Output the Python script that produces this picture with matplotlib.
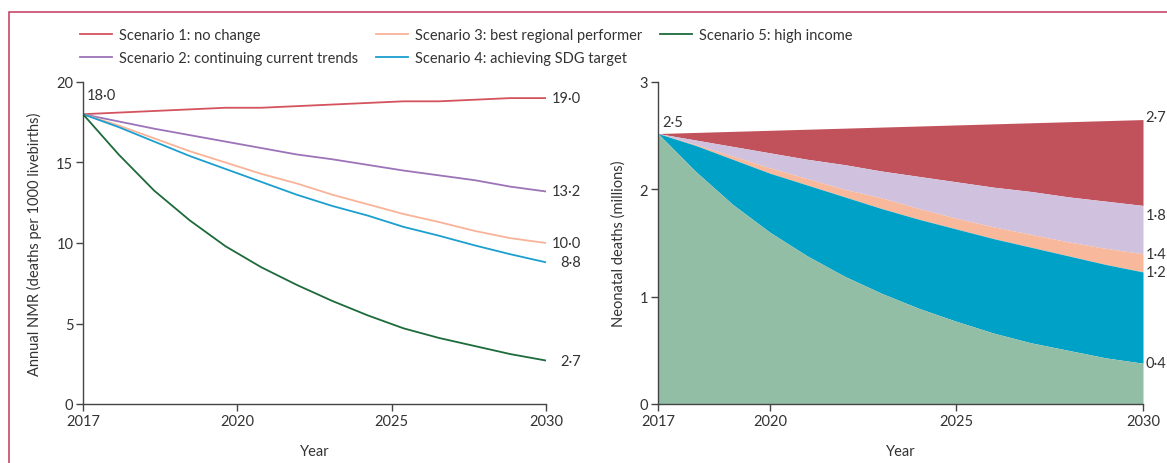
import numpy as np
import matplotlib
matplotlib.use("Agg")
import matplotlib.pyplot as plt
from matplotlib.patches import Rectangle

plt.rcParams["font.family"] = ["Lato", "DejaVu Sans"]
plt.rcParams["font.size"] = 10.5

years = [2017, 2018, 2019, 2020, 2021, 2022, 2023, 2024, 2025, 2026, 2027, 2028, 2029, 2030]
names = ["Scenario 1: no change", "Scenario 2: continuing current trends",
         "Scenario 3: best regional performer", "Scenario 4: achieving SDG target",
         "Scenario 5: high income"]

# annual NMR, deaths per 1000 livebirths
nmr_s1 = [18.0, 18.1, 18.2, 18.3, 18.4, 18.4, 18.5, 18.6, 18.7, 18.8, 18.8, 18.9, 19.0, 19.0]
nmr_s2 = [18.0, 17.55, 17.1, 16.7, 16.3, 15.9, 15.5, 15.2, 14.85, 14.5, 14.2, 13.9, 13.5, 13.2]
nmr_s3 = [18.0, 17.3, 16.5, 15.7, 15.0, 14.3, 13.7, 13.0, 12.4, 11.8, 11.3, 10.75, 10.3, 10.0]
nmr_s4 = [18.0, 17.2, 16.3, 15.4, 14.6, 13.8, 13.0, 12.3, 11.7, 11.0, 10.45, 9.85, 9.3, 8.8]
nmr_s5 = [18.0, 15.5, 13.25, 11.4, 9.8, 8.5, 7.4, 6.4, 5.5, 4.7, 4.1, 3.6, 3.1, 2.7]

# neonatal deaths, millions
nd_s1 = [2.52, 2.53, 2.54, 2.55, 2.56, 2.57, 2.58, 2.59, 2.60, 2.61, 2.62, 2.63, 2.64, 2.65]
nd_s2 = [2.52, 2.46, 2.40, 2.34, 2.28, 2.23, 2.17, 2.12, 2.07, 2.02, 1.98, 1.93, 1.89, 1.85]
nd_s3 = [2.52, 2.42, 2.31, 2.20, 2.10, 2.00, 1.92, 1.82, 1.73, 1.65, 1.58, 1.51, 1.45, 1.40]
nd_s4 = [2.52, 2.41, 2.28, 2.15, 2.04, 1.93, 1.82, 1.72, 1.63, 1.54, 1.46, 1.38, 1.30, 1.23]
nd_s5 = [2.52, 2.17, 1.86, 1.60, 1.38, 1.19, 1.03, 0.89, 0.77, 0.66, 0.57, 0.50, 0.43, 0.38]

left_end_labels = ["19·0", "13·2", "10·0", "8·8", "2·7"]
right_end_labels = ["2·7", "1·8", "1·4", "1·2", "0·4"]
right_label_dy = [2, -7, 0, 0, 0]   # small vertical nudges (points) as in the source
tick_labels = ["2017", "2020", "2025", "2030"]

line_cols = ["#d4535e", "#9c73b8", "#f8b399", "#1b9fcf", "#1d6a3a"]
fill_cols = ["#c1515a", "#d0c2df", "#f8b89c", "#00a1c6", "#93bea6"]
TXT = "#333333"

W, H = 1167, 464
fig = plt.figure(figsize=(W / 100, H / 100), dpi=100)
axL = fig.add_axes([83 / W, 1 - 405 / H, 463 / W, 322 / H])
axR = fig.add_axes([658 / W, 1 - 405 / H, 485 / W, 322 / H])

for ax in (axL, axR):
    for s in ["top", "right"]:
        ax.spines[s].set_visible(False)
    for s in ["left", "bottom"]:
        ax.spines[s].set_color("#444444")
        ax.spines[s].set_linewidth(1.0)
    ax.tick_params(colors="#444444", labelcolor=TXT, length=5, width=1.0, labelsize=10.5, pad=2)
    ax.set_xlim(2017, 2030)
    ax.set_xlabel("Year", color=TXT, fontsize=10.5, labelpad=12)

# ---- left: NMR lines ----
nmr = [nmr_s1, nmr_s2, nmr_s3, nmr_s4, nmr_s5]
handles = []
for vals, c, n in zip(nmr, line_cols, names):
    h, = axL.plot(years, vals, color=c, lw=1.3, label=n)
    handles.append(h)
axL.set_ylim(0, 20)
axL.set_yticks([0, 5, 10, 15, 20])
# ticks in the source are evenly spaced along the axis
axL.set_xticks(np.linspace(years[0], years[-1], len(tick_labels)))
axL.set_xticklabels(tick_labels)
axL.set_ylabel("Annual NMR (deaths per 1000 livebirths)", color=TXT, fontsize=10.5, labelpad=10)
axL.annotate("18·0", (years[0], nmr_s1[0]), xytext=(3, 9), textcoords="offset points",
             ha="left", va="bottom", color=TXT, fontsize=10.5)
for vals, lab in zip(nmr, left_end_labels):
    axL.annotate(lab, (years[-1], vals[-1]), xytext=(25, 0), textcoords="offset points",
                 ha="right", va="center", color=TXT, fontsize=10.5, annotation_clip=False)

# ---- right: stacked areas ----
nd = [nd_s1, nd_s2, nd_s3, nd_s4, nd_s5]
lower = nd[1:] + [[0] * len(years)]
for up, lo, c in zip(nd, lower, fill_cols):
    axR.fill_between(years, lo, up, color=c, lw=0)
axR.set_ylim(0, 3)
axR.set_yticks([0, 1, 2, 3])
axR.set_xticks([int(t) for t in tick_labels])
axR.set_xticklabels(tick_labels)
axR.set_ylabel("Neonatal deaths (millions)", color=TXT, fontsize=10.5, labelpad=10)
axR.annotate("2·5", (years[0], nd_s1[0]), xytext=(3, 3), textcoords="offset points",
             ha="left", va="bottom", color=TXT, fontsize=10.5)
for vals, lab, dy in zip(nd, right_end_labels, right_label_dy):
    axR.annotate(lab, (years[-1], vals[-1]), xytext=(2, dy), textcoords="offset points",
                 ha="left", va="center", color=TXT, fontsize=10.5, annotation_clip=False)

fig.legend(handles=handles, loc="upper left", bbox_to_anchor=(80 / W, 1 - 29 / H),
           ncol=3, frameon=False, fontsize=10.5, handlelength=2.2, handletextpad=0.5,
           columnspacing=1.2, labelspacing=0.6, borderaxespad=0, borderpad=0,
           labelcolor=TXT)

# crimson frame around the panel
fig.patches.append(Rectangle((9 / W, -0.2), 1.2, 1.2 - 13 / H, transform=fig.transFigure,
                             fill=False, edgecolor="#c2385c", lw=1.1, clip_on=False))

fig.savefig("out.png", dpi=100)
